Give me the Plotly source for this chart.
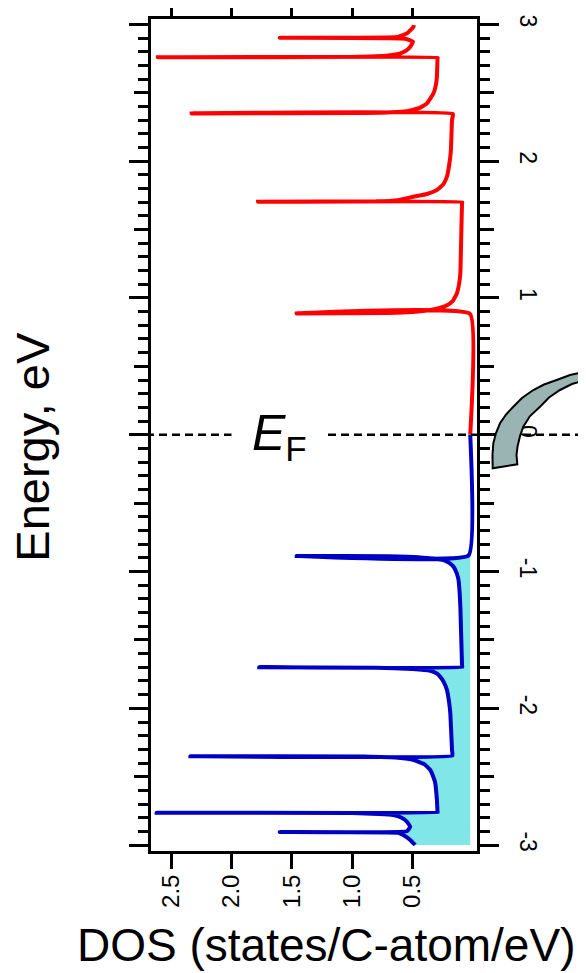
import plotly.graph_objects as go

# ---------------- data ----------------
# conduction band (E > 0), red
red_energy = [0.000, 0.884, 0.887, 0.890, 0.897, 0.912, 0.930, 0.946, 0.980, 1.034, 1.100, 1.180,
              1.470, 1.690,
              1.700, 1.703, 1.706, 1.715, 1.740, 1.760, 1.789, 1.830, 1.886, 1.980, 2.081, 2.300, 2.345,
              2.349, 2.352, 2.365, 2.390, 2.422, 2.496, 2.550, 2.617, 2.751, 2.756,
              2.759, 2.762, 2.772, 2.788, 2.810, 2.836, 2.873, 2.895,
              2.902, 2.908, 2.934, 2.982, 2.995]
red_dos = [0.022, 0.024, 1.46, 0.70, 0.50, 0.35, 0.26, 0.215, 0.165, 0.132, 0.115, 0.104,
           0.096, 0.090,
           0.088, 1.78, 0.80, 0.62, 0.494, 0.38, 0.298, 0.245, 0.215, 0.195, 0.182, 0.173, 0.165,
           2.33, 0.90, 0.55, 0.44, 0.38, 0.326, 0.308, 0.298, 0.293, 0.292,
           2.61, 1.00, 0.70, 0.60, 0.55, 0.519, 0.496, 0.56,
           1.60, 0.62, 0.546, 0.492, 0.490]

# valence band (E < 0), blue
blue_energy = [0.000, -0.883, -0.886, -0.889, -0.896, -0.916, -0.940, -0.965, -1.010, -1.062, -1.150,
               -1.257, -1.500, -1.683,
               -1.697, -1.700, -1.703, -1.712, -1.725, -1.745, -1.770, -1.810, -1.866, -1.950, -2.036,
               -2.305, -2.345,
               -2.350, -2.353, -2.362, -2.378, -2.410, -2.451, -2.500, -2.546, -2.670, -2.756, -2.760,
               -2.763, -2.766, -2.772, -2.780, -2.800, -2.829, -2.866, -2.898,
               -2.904, -2.910, -2.926, -2.962, -2.999]
blue_dos = [0.022, 0.036, 1.46, 0.70, 0.45, 0.243, 0.19, 0.160, 0.135, 0.119, 0.110,
            0.104, 0.096, 0.090,
            0.088, 1.77, 0.80, 0.50, 0.353, 0.30, 0.270, 0.240, 0.215, 0.198, 0.187,
            0.173, 0.170,
            2.34, 0.90, 0.62, 0.49, 0.40, 0.353, 0.328, 0.312, 0.298, 0.293, 0.292,
            2.62, 1.00, 0.78, 0.66, 0.59, 0.546, 0.519, 0.546,
            1.60, 0.62, 0.577, 0.519, 0.478]

dos_ticks = [2.5, 2.0, 1.5, 1.0, 0.5]
dos_ticktext = ["2.5", "2.0", "1.5", "1.0", "0.5"]
energy_ticks = [-3, -2, -1, 0, 1, 2, 3]
energy_ticktext = ["-3", "-2", "-1", "0", "1", "2", "3"]
energy_half_ticks = [-2.5, -1.5, -0.5, 0.5, 1.5, 2.5]

# ---------------- geometry helpers (page pixels; page body has an 8px margin) ----------------
OFF = 8
W, H = 586 - OFF, 973 - OFF
ML, MT = 151 - OFF, 19 - OFF
PW, PH = 326, 832
MR, MB = W - ML - PW, H - MT - PH


def px(x):
    return (x - OFF - ML) / PW


def py(y):
    return (MT + PH - (y - OFF)) / PH


FONT = "Arial, Liberation Sans, sans-serif"
XR = [2.666, -0.034]
YR = [-3.043, 3.039]

fig = go.Figure()

# shaded occupied states below the first valence singularity
metal = blue_dos[0]
fill_x = [metal] + blue_dos[3:] + [metal]
fill_y = [blue_energy[2]] + blue_energy[3:] + [blue_energy[-1]]
fig.add_trace(go.Scatter(x=fill_x, y=fill_y, mode="lines", fill="toself",
                         fillcolor="#80e6e8", line=dict(width=0),
                         hoverinfo="skip", showlegend=False))

fig.add_trace(go.Scatter(x=red_dos, y=red_energy, mode="lines",
                         line=dict(color="#ff0000", width=4, shape="spline", smoothing=0.3),
                         showlegend=False))
fig.add_trace(go.Scatter(x=blue_dos, y=blue_energy, mode="lines",
                         line=dict(color="#0000c4", width=4, shape="spline", smoothing=0.3),
                         showlegend=False))
# dummy trace for the half-integer tick axis
fig.add_trace(go.Scatter(x=[None], y=[None], yaxis="y2", showlegend=False,
                         hoverinfo="skip"))

fig.update_layout(
    width=W, height=H,
    margin=dict(l=ML, r=MR, t=MT, b=MB, pad=0, autoexpand=False),
    paper_bgcolor="white", plot_bgcolor="white",
    font=dict(family=FONT, color="black"),
    xaxis=dict(range=XR, tickvals=dos_ticks, ticktext=dos_ticktext, automargin=False,
               ticks="outside", ticklen=15, tickwidth=3, tickcolor="black",
               tickangle=-90, tickfont=dict(size=24, family=FONT), ticklabelstandoff=-4,
               showline=True, linewidth=3, linecolor="black", mirror="ticks",
               showgrid=False, zeroline=False),
    yaxis=dict(range=YR, tickvals=energy_ticks, ticktext=energy_ticktext, automargin=False,
               side="right", ticks="outside", ticklen=19, tickwidth=3, tickcolor="black",
               tickangle=90, tickfont=dict(size=23, family=FONT), ticklabelstandoff=12,
               minor=dict(dtick=0.1, tick0=0, ticks="outside", ticklen=10,
                          tickwidth=2.5, tickcolor="black", showgrid=False),
               showline=True, linewidth=3, linecolor="black", mirror="ticks",
               showgrid=False, zeroline=False),
    yaxis2=dict(range=YR, overlaying="y", anchor="x", side="right", automargin=False,
                tickvals=energy_half_ticks, ticks="outside", ticklen=14, tickwidth=3,
                tickcolor="black", showticklabels=False, showline=True, linewidth=3,
                linecolor="black", mirror="ticks", showgrid=False, zeroline=False),
)

# Fermi level dashed line
fig.add_shape(type="line", xref="paper", yref="y", x0=px(133), x1=px(600), y0=0, y1=0,
              line=dict(color="black", width=2.5, dash="8px,5px"), layer="above")

# decorative curved arrow on the right
outer = [(600, 368), (586, 371.5), (570, 375), (556.7, 380), (544, 384.5), (533.3, 390),
         (522, 398), (513.3, 406.7), (506, 414.5), (500, 423.3), (496, 433),
         (493.3, 443.3), (492.5, 455), (492.7, 468.3)]
inner = [(517.3, 464.3), (516.5, 455), (517.5, 446.7), (520, 436), (523.3, 426.7),
         (530, 416), (540, 406.7), (549, 397.5), (560, 390), (572, 384), (586, 380),
         (600, 376.5)]
pts = outer + inner
path = "M " + " L ".join(f"{px(a):.4f},{py(b):.4f}" for a, b in pts) + " Z"
fig.add_shape(type="path", xref="paper", yref="paper", path=path,
              fillcolor="#9ab4b4", line=dict(color="black", width=2), layer="above")

# labels
fig.add_annotation(text="<i>E</i><sub>F</sub>", xref="paper", yref="paper",
                   x=px(279), y=py(436), xanchor="center", yanchor="middle",
                   showarrow=False, font=dict(size=50, family=FONT, color="black"),
                   bgcolor="white", borderpad=20)
fig.add_annotation(text="Energy, eV", xref="paper", yref="paper",
                   x=px(33), y=py(446.7), xanchor="center", yanchor="middle",
                   textangle=-90, showarrow=False,
                   font=dict(size=47, family=FONT, color="black"))
fig.add_annotation(text="DOS (states/C-atom/eV)", xref="paper", yref="paper",
                   x=px(326), y=py(945), xanchor="center", yanchor="middle",
                   showarrow=False, font=dict(size=46, family=FONT, color="black"))

fig.write_html("out.html")
